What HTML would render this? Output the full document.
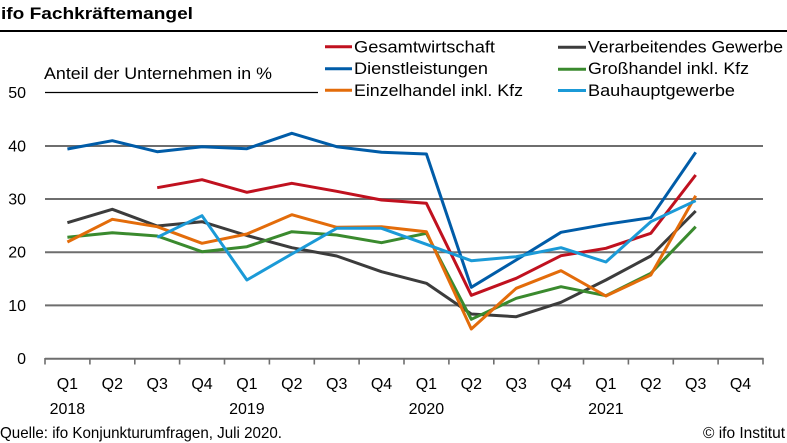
<!DOCTYPE html>
<html><head><meta charset="utf-8"><style>
html,body{margin:0;padding:0;background:#fff;}
svg{display:block;font-family:"Liberation Sans",sans-serif;}
</style></head><body>
<svg width="787" height="443" viewBox="0 0 787 443" xmlns="http://www.w3.org/2000/svg">
<rect width="787" height="443" fill="#fff"/>
<text x="1" y="19" font-size="17" font-weight="bold" textLength="192" lengthAdjust="spacingAndGlyphs" fill="#000">ifo Fachkräftemangel</text>
<rect x="0" y="30" width="787" height="2" fill="#000"/>

<!-- legend -->
<g stroke-width="3">
<line x1="325" y1="46.7" x2="352" y2="46.7" stroke="#c0111f"/>
<line x1="325" y1="68.7" x2="352" y2="68.7" stroke="#005ca8"/>
<line x1="325" y1="90.2" x2="352" y2="90.2" stroke="#e36c0a"/>
<line x1="558" y1="47.2" x2="586" y2="47.2" stroke="#3c3c3c"/>
<line x1="558" y1="69.2" x2="586" y2="69.2" stroke="#3a8a2e"/>
<line x1="558" y1="90.5" x2="586" y2="90.5" stroke="#1b9ad7"/>
</g>
<g font-size="17" fill="#000">
<text x="354" y="52.5" textLength="141" lengthAdjust="spacingAndGlyphs">Gesamtwirtschaft</text>
<text x="354" y="74.2" textLength="134" lengthAdjust="spacingAndGlyphs">Dienstleistungen</text>
<text x="354" y="95.8" textLength="169" lengthAdjust="spacingAndGlyphs">Einzelhandel inkl. Kfz</text>
<text x="588" y="52.5" textLength="195" lengthAdjust="spacingAndGlyphs">Verarbeitendes Gewerbe</text>
<text x="588" y="74.2" textLength="161" lengthAdjust="spacingAndGlyphs">Großhandel inkl. Kfz</text>
<text x="588" y="95.8" textLength="147" lengthAdjust="spacingAndGlyphs">Bauhauptgewerbe</text>
<text x="44" y="79" textLength="228" lengthAdjust="spacingAndGlyphs">Anteil der Unternehmen in %</text>
</g>

<!-- grid -->
<line x1="45" y1="92.5" x2="318" y2="92.5" stroke="#000" stroke-width="1.2"/>
<g stroke="#6e6e6e" stroke-width="2">
<line x1="45" y1="146" x2="763" y2="146"/>
<line x1="45" y1="199" x2="763" y2="199"/>
<line x1="45" y1="252.2" x2="763" y2="252.2"/>
<line x1="45" y1="305.4" x2="763" y2="305.4"/>
<line x1="45" y1="358.8" x2="763.5" y2="358.8"/>
</g>
<g stroke="#6e6e6e" stroke-width="1.6">
<line x1="45" y1="358" x2="45" y2="364.5"/>
<line x1="89.9" y1="358" x2="89.9" y2="364.5"/>
<line x1="134.8" y1="358" x2="134.8" y2="364.5"/>
<line x1="179.6" y1="358" x2="179.6" y2="364.5"/>
<line x1="224.5" y1="358" x2="224.5" y2="364.5"/>
<line x1="269.4" y1="358" x2="269.4" y2="364.5"/>
<line x1="314.3" y1="358" x2="314.3" y2="364.5"/>
<line x1="359.1" y1="358" x2="359.1" y2="364.5"/>
<line x1="404" y1="358" x2="404" y2="364.5"/>
<line x1="448.9" y1="358" x2="448.9" y2="364.5"/>
<line x1="493.8" y1="358" x2="493.8" y2="364.5"/>
<line x1="538.6" y1="358" x2="538.6" y2="364.5"/>
<line x1="583.5" y1="358" x2="583.5" y2="364.5"/>
<line x1="628.4" y1="358" x2="628.4" y2="364.5"/>
<line x1="673.3" y1="358" x2="673.3" y2="364.5"/>
<line x1="718.1" y1="358" x2="718.1" y2="364.5"/>
<line x1="763" y1="358" x2="763" y2="364.5"/>
</g>

<!-- y labels -->
<g font-size="16" fill="#000" text-anchor="end">
<text x="26" y="98">50</text>
<text x="26" y="151.5">40</text>
<text x="26" y="204.5">30</text>
<text x="26" y="257.7">20</text>
<text x="26" y="311">10</text>
<text x="26" y="364">0</text>
</g>

<!-- x labels -->
<g font-size="16" fill="#000" text-anchor="middle">
<text x="67.4" y="389">Q1</text>
<text x="112.3" y="389">Q2</text>
<text x="157.2" y="389">Q3</text>
<text x="202" y="389">Q4</text>
<text x="246.9" y="389">Q1</text>
<text x="291.8" y="389">Q2</text>
<text x="336.7" y="389">Q3</text>
<text x="381.5" y="389">Q4</text>
<text x="426.4" y="389">Q1</text>
<text x="471.3" y="389">Q2</text>
<text x="516.2" y="389">Q3</text>
<text x="561" y="389">Q4</text>
<text x="605.9" y="389">Q1</text>
<text x="650.8" y="389">Q2</text>
<text x="695.7" y="389">Q3</text>
<text x="740.5" y="389">Q4</text>
<text x="67.4" y="414">2018</text>
<text x="246.9" y="414">2019</text>
<text x="426.4" y="414">2020</text>
<text x="605.9" y="414">2021</text>
</g>

<!-- series -->
<g fill="none" stroke-width="3" stroke-linejoin="round" stroke-linecap="butt">
<polyline stroke="#3c3c3c" points="67.4,222.7 112.3,209.3 157.2,226 202,221.7 246.9,235.5 291.8,247.7 336.7,256 381.5,271.7 426.4,283.3 471.3,314 516.2,316.7 561,302.3 605.9,280 650.8,256 695.7,211"/>
<polyline stroke="#3a8a2e" points="67.4,237.3 112.3,232.7 157.2,236 202,251.7 246.9,246.7 291.8,231.7 336.7,235 381.5,242.7 426.4,233.3 471.3,319.3 516.2,298.3 561,286.7 605.9,295.7 650.8,273.3 695.7,226.7"/>
<polyline stroke="#e36c0a" points="67.4,242 112.3,219.3 157.2,226.7 202,243.3 246.9,234 291.8,214.7 336.7,227.3 381.5,226.7 426.4,231.7 471.3,329 516.2,288.3 561,270.7 605.9,296 650.8,275 695.7,195.7"/>
<polyline stroke="#c0111f" points="157.2,187.7 202,179.7 246.9,192.3 291.8,183.3 336.7,191.3 381.5,200 426.4,203.3 471.3,295.3 516.2,278.3 561,255.7 605.9,248.3 650.8,233.3 695.7,175"/>
<polyline stroke="#005ca8" points="67.4,149 112.3,140.7 157.2,151.7 202,146.7 246.9,148.7 291.8,133.3 336.7,146.7 381.5,152.3 426.4,154 471.3,287.3 516.2,260 561,232.3 605.9,224.3 650.8,217.7 695.7,152.3"/>
<polyline stroke="#1b9ad7" points="157.2,237.3 202,215.7 246.9,280 291.8,254 336.7,228.3 381.5,228.3 426.4,244.3 471.3,260.7 516.2,256.7 561,247.7 605.9,262 650.8,221.7 695.7,200.7"/>
</g>

<!-- footer -->
<g font-size="16" fill="#000">
<text x="0" y="438" textLength="282" lengthAdjust="spacingAndGlyphs">Quelle: ifo Konjunkturumfragen, Juli 2020.</text>
<text x="785" y="438" text-anchor="end" textLength="82" lengthAdjust="spacingAndGlyphs">© ifo Institut</text>
</g>
</svg>
</body></html>
